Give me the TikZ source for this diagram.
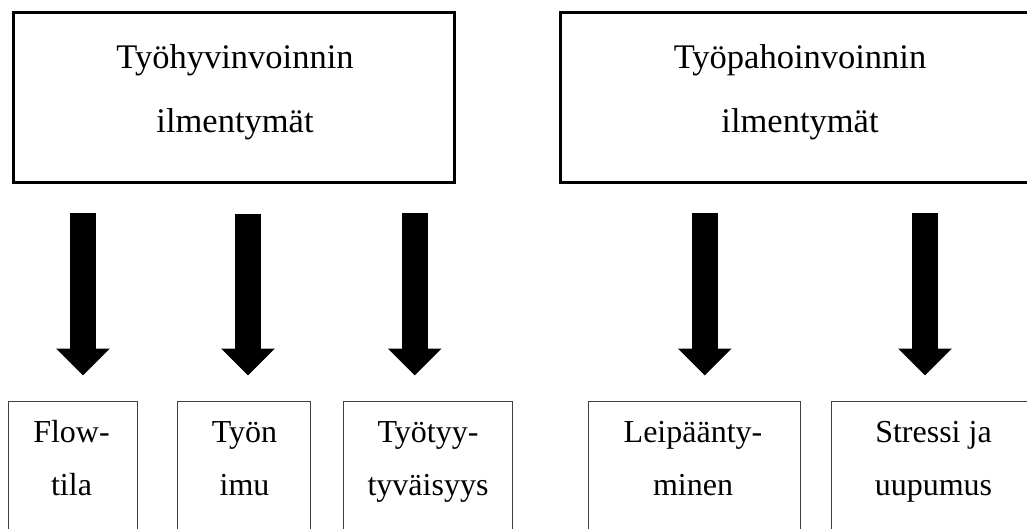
\documentclass[tikz,border=0pt]{standalone}
\usepackage{fontspec}
\setmainfont{Liberation Serif}
\usetikzlibrary{arrows.meta}
\begin{document}
\begin{tikzpicture}[x=1pt,y=-1pt,
  bigbox/.style={draw=black, line width=3pt, rectangle, inner sep=0pt, outer sep=0pt, anchor=north west},
  smallbox/.style={draw=black!75, line width=1pt, rectangle, inner sep=0pt, outer sep=0pt, anchor=north west},
  toptext/.style={align=center, inner sep=0pt, anchor=base, font=\fontsize{34.5}{64}\selectfont},
  bottext/.style={align=center, inner sep=0pt, anchor=base, font=\fontsize{32}{53}\selectfont},
  fatarrow/.style={line width=26pt, line cap=butt, -{Triangle[width=52pt,length=27pt]}}]
\useasboundingbox (0,0) rectangle (1027,528);
\fill[white] (0,0) rectangle (1027,528);
\clip (0,0) rectangle (1027,528);
% top boxes
\node[bigbox, minimum width=441pt, minimum height=170pt] (L) at (13.5,12) {};
\node[bigbox, minimum width=481pt, minimum height=170pt] (R) at (560.5,12) {};
\node[toptext] (Lt) at (235,132) {Työhyvinvoinnin\\ilmentymät};
\node[toptext] (Rt) at (800,132) {Työpahoinvoinnin\\ilmentymät};
% bottom boxes
\node[smallbox, minimum width=128.5pt, minimum height=140pt] (b1) at (8.5,401.5) {};
\node[smallbox, minimum width=132.5pt, minimum height=140pt] (b2) at (177.5,401.5) {};
\node[smallbox, minimum width=169pt, minimum height=140pt] (b3) at (343,401.5) {};
\node[smallbox, minimum width=212pt, minimum height=140pt] (b4) at (588.5,401.5) {};
\node[smallbox, minimum width=205pt, minimum height=140pt] (b5) at (831,401.5) {};
\node[bottext] (t1) at (71.5,495) {Flow-\\tila};
\node[bottext] (t2) at (244.5,495) {Työn\\imu};
\node[bottext] (t3) at (428,495) {Työtyy-\\tyväisyys};
\node[bottext] (t4) at (693,495) {Leipäänty-\\minen};
\node[bottext] (t5) at (933.5,495) {Stressi ja\\uupumus};
% arrows
\coordinate (s1) at (83,213);
\coordinate (s2) at (248,214);
\coordinate (s3) at (414.7,213);
\coordinate (s4) at (704.7,213);
\coordinate (s5) at (925,213);
\draw[fatarrow] (s1) -- ([yshift=26pt]b1.north -| s1);
\draw[fatarrow] (s2) -- ([yshift=26pt]b2.north -| s2);
\draw[fatarrow] (s3) -- ([yshift=26pt]b3.north -| s3);
\draw[fatarrow] (s4) -- ([yshift=26pt]b4.north -| s4);
\draw[fatarrow] (s5) -- ([yshift=26pt]b5.north -| s5);
\end{tikzpicture}
\end{document}
